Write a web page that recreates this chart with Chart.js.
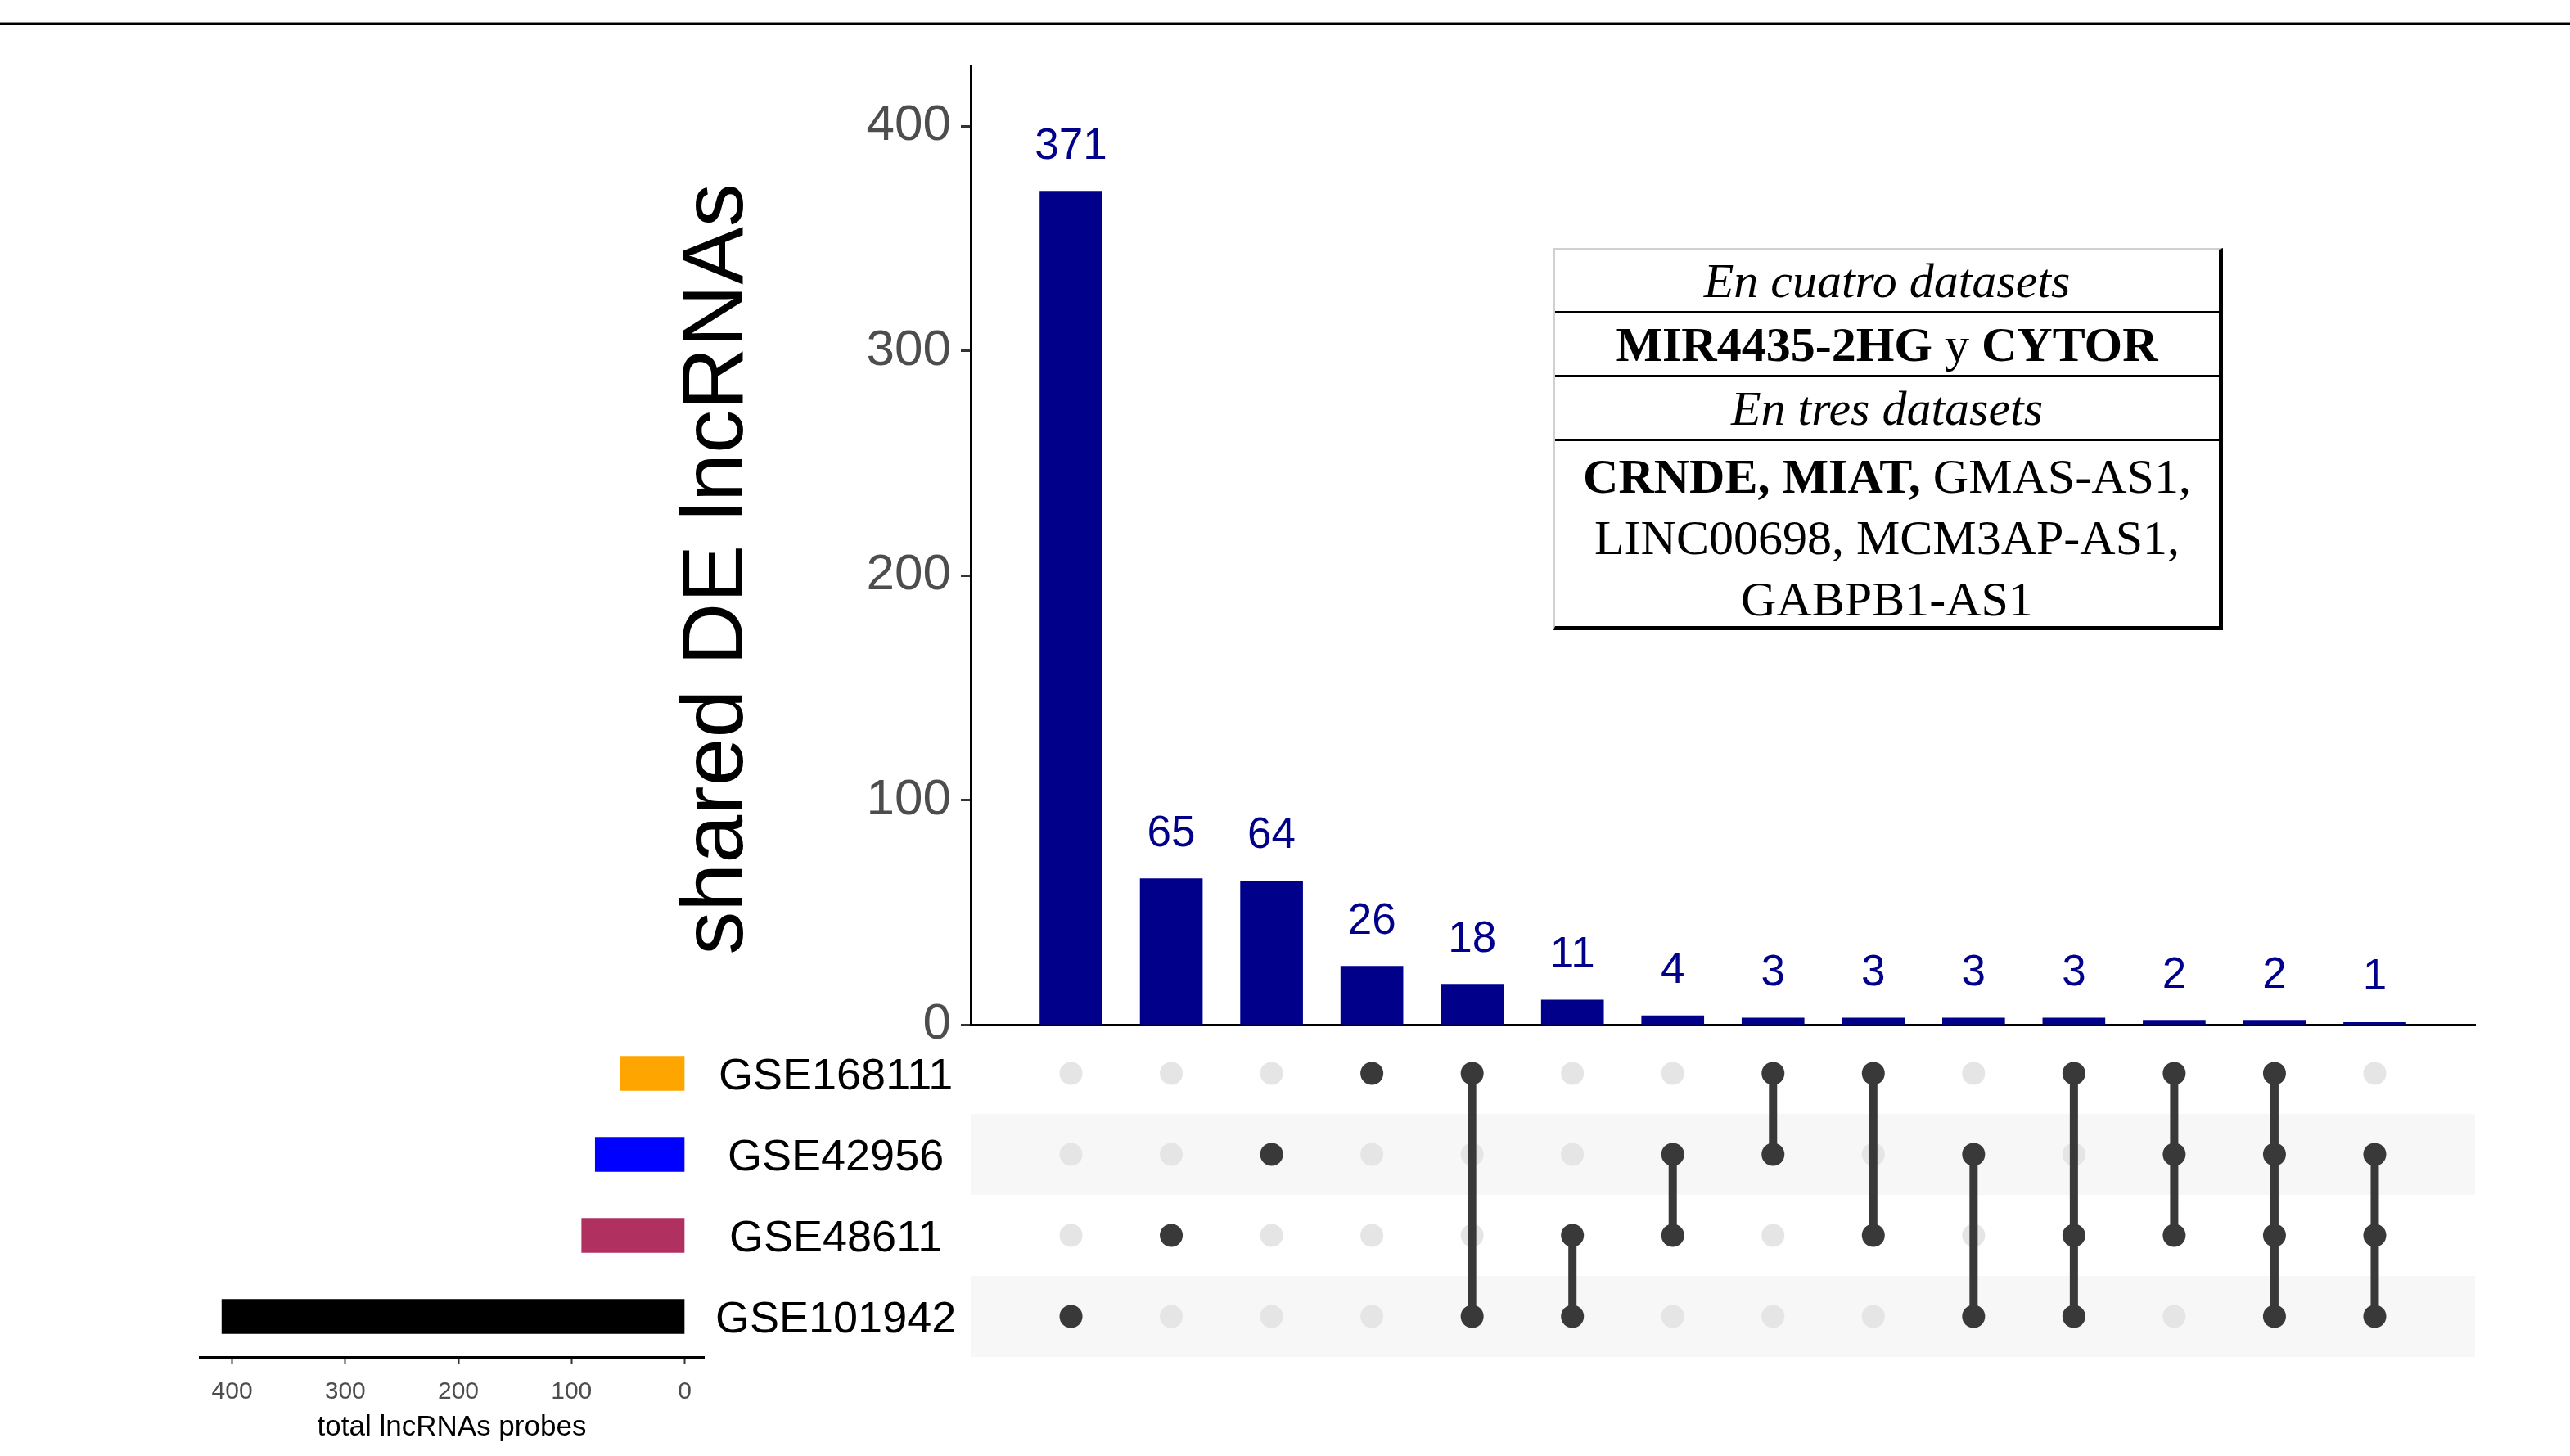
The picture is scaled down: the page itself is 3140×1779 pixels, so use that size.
<!DOCTYPE html>
<html>
<head>
<meta charset="utf-8">
<script src="https://cdn.jsdelivr.net/npm/chart.js@4.4.1/dist/chart.umd.min.js"></script>
<style>
  body { margin: 0; background: #fff; width: 3140px; height: 1779px; position: relative; overflow: hidden; }
  canvas { position: absolute; }
  #topline { position: absolute; left: 0; top: 27px; width: 3140px; height: 2px; border-top: 1px solid #888; background: #000; }
  #box { position: absolute; left: 1898px; top: 303px; width: 818px; height: 467px; box-sizing: border-box;
         border-top: 2px solid #d0d0d0; border-left: 2px solid #d0d0d0; border-right: 5px solid #000; border-bottom: 5px solid #000;
         font-family: 'Liberation Serif', 'Times New Roman', serif; font-size: 60px; color: #000; text-align: center; }
  #box .row { display: flex; align-items: center; justify-content: center; border-bottom: 3px solid #000; line-height: 1; }
  #box .row.last { border-bottom: none; line-height: 75px; padding-top: 10px; box-sizing: border-box; }
  #box i { font-style: italic; }
</style>
</head>
<body>
<div id="topline"></div>
<canvas id="mainBars" width="2224" height="1312" style="left:810px; top:10px;"></canvas>
<canvas id="matrix" width="1838" height="396" style="left:1186px; top:1262px;"></canvas>
<canvas id="setSizes" width="1000" height="577" style="left:200px; top:1202px;"></canvas>
<div id="box">
  <div class="row" style="height:75px;"><i>En cuatro datasets</i></div>
  <div class="row" style="height:75px;"><span><b>MIR4435-2HG</b> y <b>CYTOR</b></span></div>
  <div class="row" style="height:75px;"><i>En tres datasets</i></div>
  <div class="row last" style="height:226px;"><span><b>CRNDE, MIAT,</b> GMAS-AS1,<br>LINC00698, MCM3AP-AS1,<br>GABPB1-AS1</span></div>
</div>
<script>
// datos del UpSet plot
const setNames = ['GSE168111', 'GSE42956', 'GSE48611', 'GSE101942'];
const setSizes = [57, 79, 91, 409];
const intersectionSizes = [371, 65, 64, 26, 18, 11, 4, 3, 3, 3, 3, 2, 2, 1];
const intersectionSets = [
    ['GSE101942'],
    ['GSE48611'],
    ['GSE42956'],
    ['GSE168111'],
    ['GSE168111', 'GSE101942'],
    ['GSE48611', 'GSE101942'],
    ['GSE42956', 'GSE48611'],
    ['GSE168111', 'GSE42956'],
    ['GSE168111', 'GSE48611'],
    ['GSE42956', 'GSE101942'],
    ['GSE168111', 'GSE48611', 'GSE101942'],
    ['GSE168111', 'GSE42956', 'GSE48611'],
    ['GSE168111', 'GSE42956', 'GSE48611', 'GSE101942'],
    ['GSE42956', 'GSE48611', 'GSE101942']
];
const mainTicks = [0, 100, 200, 300, 400];

const setColors = ['#FFA500', '#0000FF', '#B03060', '#000000'];
const barColor = '#00008B';
const dotOn = '#393939';
const dotOff = '#e5e5e5';
const stripeColor = '#f7f7f7';

Chart.defaults.font.family = "'Liberation Sans', Arial, sans-serif";
Chart.defaults.animation = false;

// etiquetas encima de las barras
const barLabels = {
    id: 'barLabels',
    afterDatasetsDraw(chart) {
        const ctx = chart.ctx;
        const meta = chart.getDatasetMeta(0);
        ctx.save();
        ctx.font = "53px 'Liberation Sans', Arial, sans-serif";
        ctx.fillStyle = barColor;
        ctx.textAlign = 'center';
        meta.data.forEach((bar, i) => {
            ctx.fillText(String(intersectionSizes[i]), bar.x, bar.y - 40);
        });
        ctx.restore();
    }
};

// barras principales (intersecciones)
new Chart(document.getElementById('mainBars'), {
    type: 'bar',
    data: {
        datasets: [{
            data: intersectionSizes.map((v, i) => ({ x: i + 1, y: v })),
            backgroundColor: barColor,
            barThickness: 76
        }]
    },
    options: {
        responsive: false,
        devicePixelRatio: 1,
        layout: { autoPadding: false, padding: { top: 70, right: 10, bottom: 70, left: 0 } },
        plugins: { legend: { display: false }, tooltip: { enabled: false } },
        scales: {
            x: {
                type: 'linear',
                offset: false,
                min: 0,
                max: intersectionSizes.length + 1,
                afterFit(scale) { scale.height = 0; },
                grid: { display: false, drawTicks: false },
                ticks: { display: false },
                border: { display: true, color: '#000', width: 3 }
            },
            y: {
                min: 0,
                max: 427,
                afterFit(scale) { scale.width = 376; },
                afterBuildTicks(scale) { scale.ticks = mainTicks.map(v => ({ value: v })); },
                grid: { drawOnChartArea: false, drawTicks: true, tickLength: 12, tickColor: '#333', tickWidth: 3 },
                border: { display: true, color: '#000', width: 3 },
                ticks: { color: '#4d4d4d', font: { size: 62 }, padding: 12 },
                title: {
                    display: true,
                    text: 'shared DE lncRNAs  ',
                    color: '#000',
                    font: { size: 106 },
                    padding: { top: 4, bottom: 4 }
                }
            }
        }
    },
    plugins: [barLabels]
});

// franjas grises de la matriz
const stripes = {
    id: 'stripes',
    beforeDatasetsDraw(chart) {
        const { ctx, chartArea, scales: { y } } = chart;
        ctx.save();
        ctx.fillStyle = stripeColor;
        [2, 4].forEach(r => {
            const a = y.getPixelForValue(r - 0.5);
            const b = y.getPixelForValue(r + 0.5);
            ctx.fillRect(chartArea.left, Math.min(a, b), chartArea.right - chartArea.left, Math.abs(b - a));
        });
        ctx.restore();
    }
};

const activeSets = intersectionSets.map((sets, i) => ({
    data: setNames.map((n, r) => sets.includes(n) ? { x: i + 1, y: r + 1 } : null).filter(p => p),
    showLine: true,
    borderColor: dotOn,
    borderWidth: 10,
    pointRadius: 14,
    pointBackgroundColor: dotOn,
    pointBorderWidth: 0
}));
const inactive = [];
intersectionSets.forEach((sets, i) => {
    setNames.forEach((n, r) => {
        if (!sets.includes(n)) inactive.push({ x: i + 1, y: r + 1 });
    });
});

new Chart(document.getElementById('matrix'), {
    type: 'scatter',
    data: {
        datasets: activeSets.concat([{
            data: inactive,
            pointRadius: 14,
            pointBackgroundColor: dotOff,
            pointBorderWidth: 0
        }])
    },
    options: {
        responsive: false,
        devicePixelRatio: 1,
        layout: { autoPadding: false, padding: 0 },
        plugins: { legend: { display: false }, tooltip: { enabled: false } },
        scales: {
            x: { type: 'linear', display: false, min: 0, max: intersectionSizes.length + 1 },
            y: { type: 'linear', display: false, min: 0.5, max: setNames.length + 0.5, reverse: true }
        }
    },
    plugins: [stripes]
});

// tamaño de cada set
new Chart(document.getElementById('setSizes'), {
    type: 'bar',
    data: {
        labels: setNames,
        datasets: [{
            data: setSizes,
            backgroundColor: setColors,
            barThickness: 42
        }]
    },
    options: {
        indexAxis: 'y',
        responsive: false,
        devicePixelRatio: 1,
        layout: { autoPadding: false, padding: { top: 60, right: 20, bottom: 0, left: 44 } },
        plugins: { legend: { display: false }, tooltip: { enabled: false } },
        scales: {
            x: {
                reverse: true,
                min: -17,
                max: 428.6,
                afterFit(scale) { scale.height = 121; },
                afterBuildTicks(scale) { scale.ticks = mainTicks.map(v => ({ value: v })); },
                grid: { drawOnChartArea: false, drawTicks: true, tickLength: 9, tickColor: '#333', tickWidth: 2 },
                border: { display: true, color: '#000', width: 3 },
                ticks: { color: '#4d4d4d', font: { size: 30 }, padding: 16, maxRotation: 0 },
                title: {
                    display: true,
                    text: 'total lncRNAs probes',
                    color: '#000',
                    font: { size: 35 },
                    padding: { top: 4, bottom: 14 }
                }
            },
            y: {
                position: 'right',
                afterFit(scale) { scale.width = 320; },
                grid: { display: false, drawTicks: false },
                border: { display: false },
                ticks: { color: '#000', font: { size: 54 }, crossAlign: 'center', padding: 14, labelOffset: 5 }
            }
        }
    }
});
</script>
</body>
</html>
